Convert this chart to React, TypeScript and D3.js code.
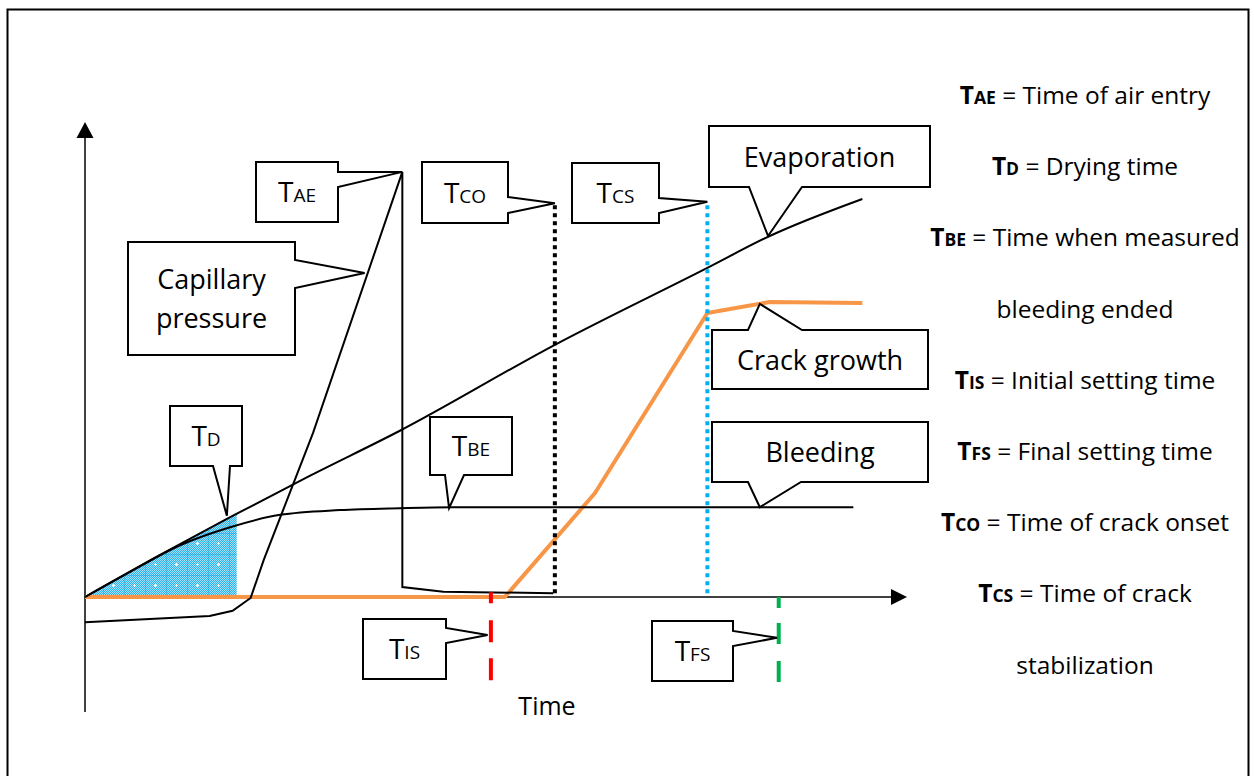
import * as d3 from "d3";

// time (0-100, arbitrary units) and value (0-100, arbitrary units)
const evapT = [0, 9.1, 17.7, 27.4, 38.4, 57.3, 75.9, 83.5, 94.8];
const evapV = [0, 8.8, 16.8, 25.5, 35.0, 53.1, 69.3, 76.0, 83.8];

const bleedT = [0, 5.5, 11.6, 17.7, 23.8, 31.1, 38.4, 44.8, 93.7];
const bleedV = [0, 5.3, 10.9, 14.7, 17.3, 18.3, 18.7, 18.9, 18.9];

const capT = [0, 15.2, 18.0, 20.2, 21.8, 27.8, 38.7, 38.7, 43.7, 57.1];
const capV = [-5.3, -4.0, -2.9, -0.2, 7.8, 34.5, 89.5, 2.1, 1.1, 0.8];

const crackT = [0, 51.2, 62.2, 75.9, 83.5, 94.8];
const crackV = [0, 0, 21.9, 59.8, 62.1, 61.9];

const tD = 18.5;
const tIS = 49.5;
const tCO = 57.3;
const tCS = 75.9;
const tFS = 84.6;

const legendSub = ["AE", "D", "BE", "", "IS", "FS", "CO", "CS", ""];
const legendText = [
  " = Time of air entry",
  " = Drying time",
  " = Time when measured",
  "bleeding ended",
  " = Initial setting time",
  " = Final setting time",
  " = Time of crack onset",
  " = Time of crack",
  "stabilization",
];

// callouts: tip in data units, box in pixels
const callouts = [
  { lines: [["T", "AE"]], tip: [38.7, 89.5], box: [256, 162, 82, 60], side: "right", b: [172, 187] },
  { lines: [["Capillary", ""], ["pressure", ""]], tip: [34.1, 68.2], box: [128, 242, 167, 113], side: "right", b: [260, 288] },
  { lines: [["T", "CO"]], tip: [tCO, 82.9], box: [422, 162, 86, 61], side: "right", b: [197, 213] },
  { lines: [["T", "CS"]], tip: [tCS, 83.2], box: [572, 163, 87, 60], side: "right", b: [198, 213] },
  { lines: [["Evaporation", ""]], tip: [83.3, 76], box: [709, 126, 221, 61], side: "bottom", b: [749, 802] },
  { lines: [["Crack growth", ""]], tip: [82.3, 61.7], box: [712, 330, 216, 59], side: "top", b: [748, 802] },
  { lines: [["Bleeding", ""]], tip: [82.3, 18.9], box: [712, 422, 216, 60], side: "bottom", b: [748, 801] },
  { lines: [["T", "D"]], tip: [17.3, 17.1], box: [170, 406, 72, 60], side: "bottom", b: [213, 230] },
  { lines: [["T", "BE"]], tip: [44.4, 18.7], box: [430, 417, 82, 58], side: "bottom", b: [445, 464] },
  { lines: [["T", "IS"]], tip: [49.1, -8.0], box: [363, 619, 83, 60], side: "right", b: [628, 643] },
  { lines: [["T", "FS"]], tip: [84.4, -8.6], box: [652, 621, 81, 60], side: "right", b: [631, 646] },
];

const FONT = "'Open Sans', Lato, sans-serif";

function calloutPath(box, side, b, tx, ty) {
  const [x, y, w, h] = box;
  if (side === "right")
    return `M${x},${y}H${x + w}V${b[0]}L${tx},${ty}L${x + w},${b[1]}V${y + h}H${x}Z`;
  if (side === "bottom")
    return `M${x},${y}H${x + w}V${y + h}H${b[1]}L${tx},${ty}L${b[0]},${y + h}H${x}Z`;
  return `M${x},${y}H${b[0]}L${tx},${ty}L${b[1]},${y}H${x + w}V${y + h}H${x}Z`;
}

export default function App() {
  const width = 1254;
  const height = 776;

  const xScale = d3.scaleLinear().domain([0, 100]).range([85, 905]);
  const yScale = d3.scaleLinear().domain([0, 100]).range([597, 122]);

  const pts = (t, v) => t.map((d, i) => [d, v[i]]);

  const line = d3.line().x((d) => xScale(d[0])).y((d) => yScale(d[1]));
  const smooth = d3
    .line()
    .curve(d3.curveMonotoneX)
    .x((d) => xScale(d[0]))
    .y((d) => yScale(d[1]));
  const area = d3
    .area()
    .curve(d3.curveMonotoneX)
    .x((d) => xScale(d[0]))
    .y0(yScale(0))
    .y1((d) => yScale(d[1]));

  const x0 = xScale(0);
  const y0 = yScale(0);
  const yTop = yScale(100);
  const yBottom = yScale(-24.2);
  const xEnd = xScale(100);

  return (
    <svg width={width} height={height} style={{ position: "absolute", left: 0, top: 0, background: "#fff" }}>
      <defs>
        <pattern id="checker" patternUnits="userSpaceOnUse" width={2} height={2}>
          <rect width={2} height={2} fill="#2db3ee" />
          <rect width={1} height={1} fill="#a5def7" />
          <rect x={1} y={1} width={1} height={1} fill="#a5def7" />
        </pattern>
        <pattern id="grid" patternUnits="userSpaceOnUse" x={82} y={512} width={21} height={21}>
          <path d="M0,0H21M0,0V21" stroke="#1ea6e6" strokeWidth={1} fill="none" />
          <path d="M10.5,9V12M9,10.5H12" stroke="#fff" strokeWidth={1} />
        </pattern>
        <clipPath id="dryClip">
          <rect x={x0} y={0} width={xScale(tD) - x0} height={y0} />
        </clipPath>
      </defs>

      {/* frame */}
      <rect x={7.5} y={9.5} width={1241} height={780} fill="none" stroke="#000" strokeWidth={2} />

      {/* drying area */}
      <g clipPath="url(#dryClip)">
        <path d={area(pts(evapT, evapV))} fill="url(#checker)" />
        <path d={area(pts(evapT, evapV))} fill="url(#grid)" />
      </g>

      {/* axes */}
      <line x1={x0} y1={yBottom} x2={x0} y2={yTop + 14} stroke="#000" strokeWidth={1.5} />
      <path d={`M${x0},${yTop}L${x0 - 8.5},${yTop + 16}L${x0 + 8.5},${yTop + 16}Z`} fill="#000" />
      <line x1={x0} y1={y0} x2={xEnd - 12} y2={y0} stroke="#000" strokeWidth={1.5} />
      <path d={`M${xEnd + 2},${y0}L${xEnd - 14},${y0 - 8}L${xEnd - 14},${y0 + 8}Z`} fill="#000" />

      {/* crack growth */}
      <path d={line(pts(crackT, crackV))} fill="none" stroke="#f79646" strokeWidth={4} strokeLinejoin="round" />

      {/* black curves */}
      <path d={smooth(pts(evapT, evapV))} fill="none" stroke="#000" strokeWidth={2} />
      <path d={smooth(pts(bleedT, bleedV))} fill="none" stroke="#000" strokeWidth={2} />
      <path d={line(pts(capT, capV))} fill="none" stroke="#000" strokeWidth={2} />

      {/* event lines */}
      <line x1={xScale(tCO)} y1={yScale(82.5)} x2={xScale(tCO)} y2={y0} stroke="#000" strokeWidth={4} strokeDasharray="4 4" />
      <line x1={xScale(tCS)} y1={yScale(82.5)} x2={xScale(tCS)} y2={y0} stroke="#00b0f0" strokeWidth={4} strokeDasharray="4 4" />
      <line x1={xScale(tIS)} y1={yScale(1)} x2={xScale(tIS)} y2={yScale(-17.5)} stroke="#ff0000" strokeWidth={4} strokeDasharray="11 17 22 16 22 100" />
      <line x1={xScale(tFS)} y1={y0} x2={xScale(tFS)} y2={yScale(-17.9)} stroke="#00b050" strokeWidth={4} strokeDasharray="11 15 21 17 21 100" />

      {/* callouts */}
      {callouts.map((c, i) => {
        const tx = xScale(c.tip[0]);
        const ty = yScale(c.tip[1]);
        const [bx, by, bw, bh] = c.box;
        const cx = bx + bw / 2;
        const cy = by + bh / 2;
        const n = c.lines.length;
        return (
          <g key={i}>
            <path d={calloutPath(c.box, c.side, c.b, tx, ty)} fill="#fff" stroke="#000" strokeWidth={2} strokeLinejoin="miter" />
            {c.lines.map((l, j) => (
              <text
                key={j}
                x={cx}
                y={cy + 10 + (j - (n - 1) / 2) * 39}
                textAnchor="middle"
                fontFamily={FONT}
                fontSize={l[1] ? 28 : 27}
                fill="#000"
              >
                {l[0]}
                {l[1] ? <tspan fontSize={19}>{l[1]}</tspan> : null}
              </text>
            ))}
          </g>
        );
      })}

      {/* axis title */}
      <text x={547} y={715} textAnchor="middle" fontFamily={FONT} fontSize={25} fill="#000">
        Time
      </text>

      {/* legend */}
      {legendText.map((t, i) => (
        <text key={i} x={1085} y={104 + i * 71.2} textAnchor="middle" fontFamily={FONT} fontSize={24.5} fill="#000">
          {legendSub[i] ? (
            <>
              <tspan fontWeight="bold">T</tspan>
              <tspan fontWeight="bold" fontSize={17.5}>
                {legendSub[i]}
              </tspan>
            </>
          ) : null}
          <tspan>{t}</tspan>
        </text>
      ))}
    </svg>
  );
}
